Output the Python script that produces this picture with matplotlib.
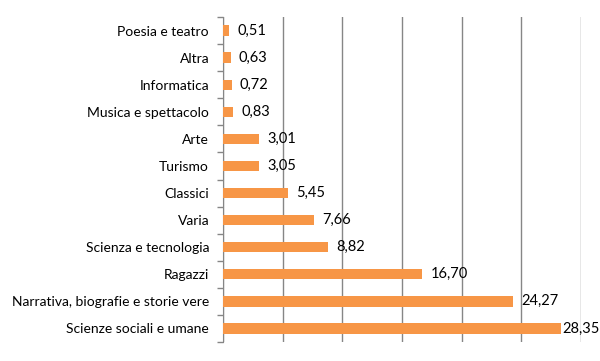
import matplotlib.pyplot as plt

categories = ['Poesia e teatro', 'Altra', 'Informatica', 'Musica e spettacolo', 'Arte',
              'Turismo', 'Classici', 'Varia', 'Scienza e tecnologia', 'Ragazzi',
              'Narrativa, biografie e storie vere', 'Scienze sociali e umane']
values = [0.51, 0.63, 0.72, 0.83, 3.01, 3.05, 5.45, 7.66, 8.82, 16.70, 24.27, 28.35]

plt.rcParams['font.family'] = ['Lato', 'DejaVu Sans']

fig = plt.figure(figsize=(6, 3.61), dpi=100)
ax = fig.add_axes([223/600, 1 - 342/361, 358/600, 325/361])

pos = list(range(len(categories)))[::-1]
ax.barh(pos, values, height=0.38, color='#F79646', zorder=3)
for p, v in zip(pos, values):
    off = 6 if v < 27 else 0.5
    ax.annotate(f'{v:.2f}'.replace('.', ','), (v, p), xytext=(off, 0),
                textcoords='offset points', va='center', ha='left',
                fontsize=10.5, color='#000000', zorder=4)

ax.set_xlim(0, 30)
ax.set_ylim(-0.5, len(categories) - 0.5)
ax.set_xticks(range(0, 31, 5))
ax.set_xticklabels([])
ax.tick_params(axis='x', length=0)
ax.grid(axis='x', color='#868686', linewidth=1, zorder=0)

ax.set_yticks(pos)
ax.set_yticklabels(categories, fontsize=10)
ax.tick_params(axis='y', length=0, pad=10)
ax.set_yticks([i - 0.5 for i in range(len(categories) + 1)], minor=True)
ax.tick_params(axis='y', which='minor', length=4, color='#868686', width=1)

for s in ['top', 'right', 'bottom']:
    ax.spines[s].set_visible(False)
ax.spines['left'].set_color('#868686')

plt.savefig('out.png', dpi=100)
